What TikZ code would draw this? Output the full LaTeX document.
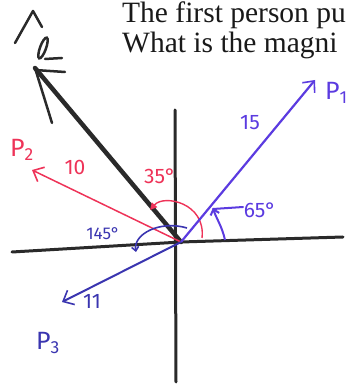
\documentclass[tikz,border=0pt]{standalone}
\usepackage{xcolor}
\usepackage{fontspec}
\setmainfont{Liberation Serif}
\newfontfamily\hand{Fira Sans}
\usepackage{tikz}
\usetikzlibrary{arrows.meta}

\definecolor{pviolet}{HTML}{5B3BE0}
\definecolor{pnavy}{HTML}{3A35B0}
\definecolor{pred}{HTML}{EE3358}
\definecolor{pblack}{HTML}{2A2A2A}

\tikzset{
  axis/.style={pblack, line width=3pt, line cap=round},
  handlbl/.style={font=\hand\fontsize{21}{21}\selectfont, inner sep=0pt},
  biglbl/.style={font=\hand\fontsize{25}{25}\selectfont, inner sep=0pt},
  barb/.style={-{Straight Barb[length=9pt,width=16pt,line width=1.6pt]}},
}

\begin{document}
\begin{tikzpicture}[x=1pt,y=1pt]
\useasboundingbox (0,0) rectangle (354,386);

% Texto del enunciado
\node[anchor=base west, inner sep=0pt, font=\fontsize{29.5}{32}\selectfont, text=black!90]
  (line1) at (122,363) {The first person pu};
\node[anchor=base west, inner sep=0pt, font=\fontsize{29.5}{32}\selectfont, text=black!90]
  (line2) at (122,333) {What is the magni};

% Ejes
\coordinate (O) at (181,144);
\coordinate (xl) at (12,134);
\coordinate (xr) at (343,149);
\coordinate (yt) at (175,276);
\coordinate (yb) at (176,4);
\draw[axis] (xl) -- (O) -- (xr);
\draw[axis] (yt) -- (yb);

% Resultante
\coordinate (R) at (35,318);
\coordinate (Rb) at (52,263);
\draw[pblack, line width=4.5pt, line cap=round] (O) -- (R);
\draw[pblack, line width=2.5pt, line cap=round] (R) -- (Rb);
\draw[pblack, line width=2.5pt, line cap=round, line join=round]
  (15,343) -- (33,375) -- (42,359);
\draw[pblack, line width=2.5pt, rotate around={-20:(43,338)}] (43,338) ellipse (3 and 11);
\draw[pblack, line width=2.5pt, line cap=round] (45,327) -- (62,328);
\draw[pblack, line width=2.5pt, line cap=round] (35,316) -- (65,314);

% P2
\coordinate (P2) at (32,216);
\draw[pred, line width=1.5pt, barb] (O) -- (P2);
\node[biglbl, text=pred] (p2lbl) at (22,236) {P\textsubscript{2}};
\node[handlbl, text=pred] (p2mag) at (75,219) {10};
\node[handlbl, text=pred] (p2ang) at (160,210) {35\textdegree};
\draw[pred, line width=1.4pt, -{Triangle[length=7pt,width=7pt]}]
  (202,148) .. controls (206,183) and (164,192) .. (150,176);

% P1
\coordinate (P1) at (315,306);
\draw[pviolet, line width=2.2pt, barb] (O) -- (P1);
\node[handlbl, text=pviolet] (p1mag) at (250,263) {15};
\node[biglbl, text=pviolet, anchor=west] (p1lbl) at (325,293) {P\textsubscript{1}};
\node[handlbl, text=pviolet] (p1ang) at (260,176) {65\textdegree};
\draw[pviolet, line width=2pt, -{Straight Barb[length=5pt,width=9pt]}]
  (225,146) .. controls (222,160) and (216,168) .. (213,178);
\draw[pviolet, line width=2pt, line cap=round] (213,177) -- (243,179);

% P3
\coordinate (P3) at (62,84);
\draw[pnavy, line width=2pt, barb] (O) -- (P3);
\node[handlbl, text=pnavy] (p3mag) at (92,85) {11};
\node[biglbl, text=pnavy] (p3lbl) at (48,43) {P\textsubscript{3}};
\node[handlbl, text=pnavy, font=\hand\fontsize{17}{17}\selectfont] (p3ang) at (103,152) {145\textdegree};
\draw[pnavy, line width=1.6pt, -{Straight Barb[length=4pt,width=7pt]}]
  (187,158) .. controls (160,166) and (133,152) .. (136,134);

\end{tikzpicture}
\end{document}
